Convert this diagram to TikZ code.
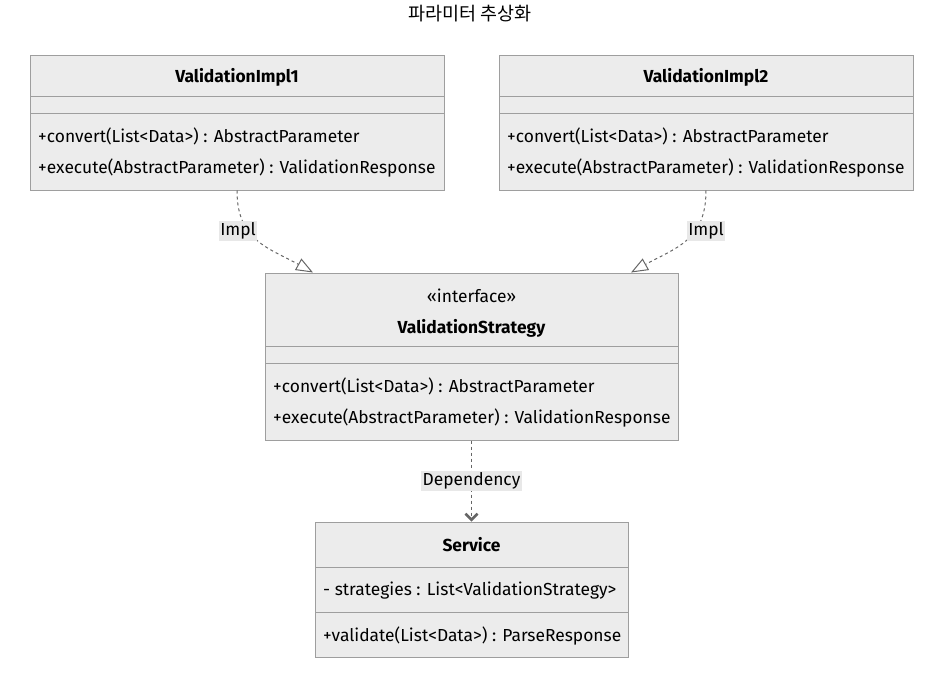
\documentclass[tikz,border=0pt]{standalone}
\usepackage{fontspec}
\setmainfont{Fira Sans}
\newfontfamily\krfont{Noto Sans CJK KR}
\usetikzlibrary{arrows.meta}
\definecolor{boxfill}{HTML}{ECECEC}
\definecolor{boxline}{HTML}{9E9E9E}
\definecolor{edgeline}{HTML}{666666}
\definecolor{lblfill}{HTML}{E8E8E8}
\begin{document}
\begin{tikzpicture}[x=1pt, y=-1pt, font=\fontsize{17.4}{20}\selectfont,
    classbox/.style={draw=boxline, fill=boxfill, line width=1pt, inner sep=0pt},
    member/.style={anchor=west, inner sep=0pt},
    cname/.style={inner sep=0pt, font=\fontsize{17.4}{20}\selectfont\bfseries},
    rel/.style={draw=edgeline, line width=1pt, dash pattern=on 3pt off 3pt},
    lbl/.style={fill=lblfill, inner sep=1.5pt}]
    \useasboundingbox (0,0) rectangle (945,675);
    \node[font=\krfont\fontsize{18.5}{21}\selectfont] (title) at (470,14) {파라미터 추상화};
    % classes
    \node[classbox, minimum width=414pt, minimum height=135pt] (impl1) at (237,122.5) {};
    \node[classbox, minimum width=414pt, minimum height=135pt] (impl2) at (706,122.5) {};
    \node[classbox, minimum width=413pt, minimum height=167pt] (strategy) at (471.5,356.5) {};
    \node[classbox, minimum width=313pt, minimum height=135pt] (service) at (471.5,589.5) {};
    \draw[boxline, line width=1pt] (30,96)--(444,96) (30,113)--(444,113);
    \draw[boxline, line width=1pt] (499,96)--(913,96) (499,113)--(913,113);
    \draw[boxline, line width=1pt] (265,346)--(678,346) (265,363)--(678,363);
    \draw[boxline, line width=1pt] (315,567)--(628,567) (315,612)--(628,612);
    \node[cname] (impl1name) at (237,77) {ValidationImpl1};
    \node[member] (impl1conv) at (38,136) {+convert(List<Data>) : AbstractParameter};
    \node[member] (impl1exec) at (38,168) {+execute(AbstractParameter) : ValidationResponse};
    \node[cname] (impl2name) at (706,77) {ValidationImpl2};
    \node[member] (impl2conv) at (507,136) {+convert(List<Data>) : AbstractParameter};
    \node[member] (impl2exec) at (507,168) {+execute(AbstractParameter) : ValidationResponse};
    \node[inner sep=0pt] (stereo) at (471.5,296) {«interface»};
    \node[cname] (strategyname) at (471.5,328) {ValidationStrategy};
    \node[member] (strategyconv) at (273,386) {+convert(List<Data>) : AbstractParameter};
    \node[member] (strategyexec) at (273,418) {+execute(AbstractParameter) : ValidationResponse};
    \node[cname] (servicename) at (471.5,545) {Service};
    \node[member] (serviceattr) at (323,591) {- strategies : List<ValidationStrategy>};
    \node[member] (servicevalid) at (323,636) {+validate(List<Data>) : ParseResponse};
    % relations
    \draw[rel, -{Triangle[open, length=17pt, width=13pt]}] (impl1.south) .. controls +(0,50) and +(-45,-25) .. ([xshift=-158.5pt]strategy.north);
    \draw[rel, -{Triangle[open, length=17pt, width=13pt]}] (impl2.south) .. controls +(0,50) and +(45,-25) .. ([xshift=159.5pt]strategy.north);
    \draw[rel, -{Straight Barb[length=6pt, width=12pt, line width=2.5pt]}] (strategy.south) -- (service.north);
    \node[lbl] (impl1lbl) at (238,231) {Impl};
    \node[lbl] (impl2lbl) at (706,231) {Impl};
    \node[lbl] (deplbl) at (471.5,481) {Dependency};
\end{tikzpicture}
\end{document}
